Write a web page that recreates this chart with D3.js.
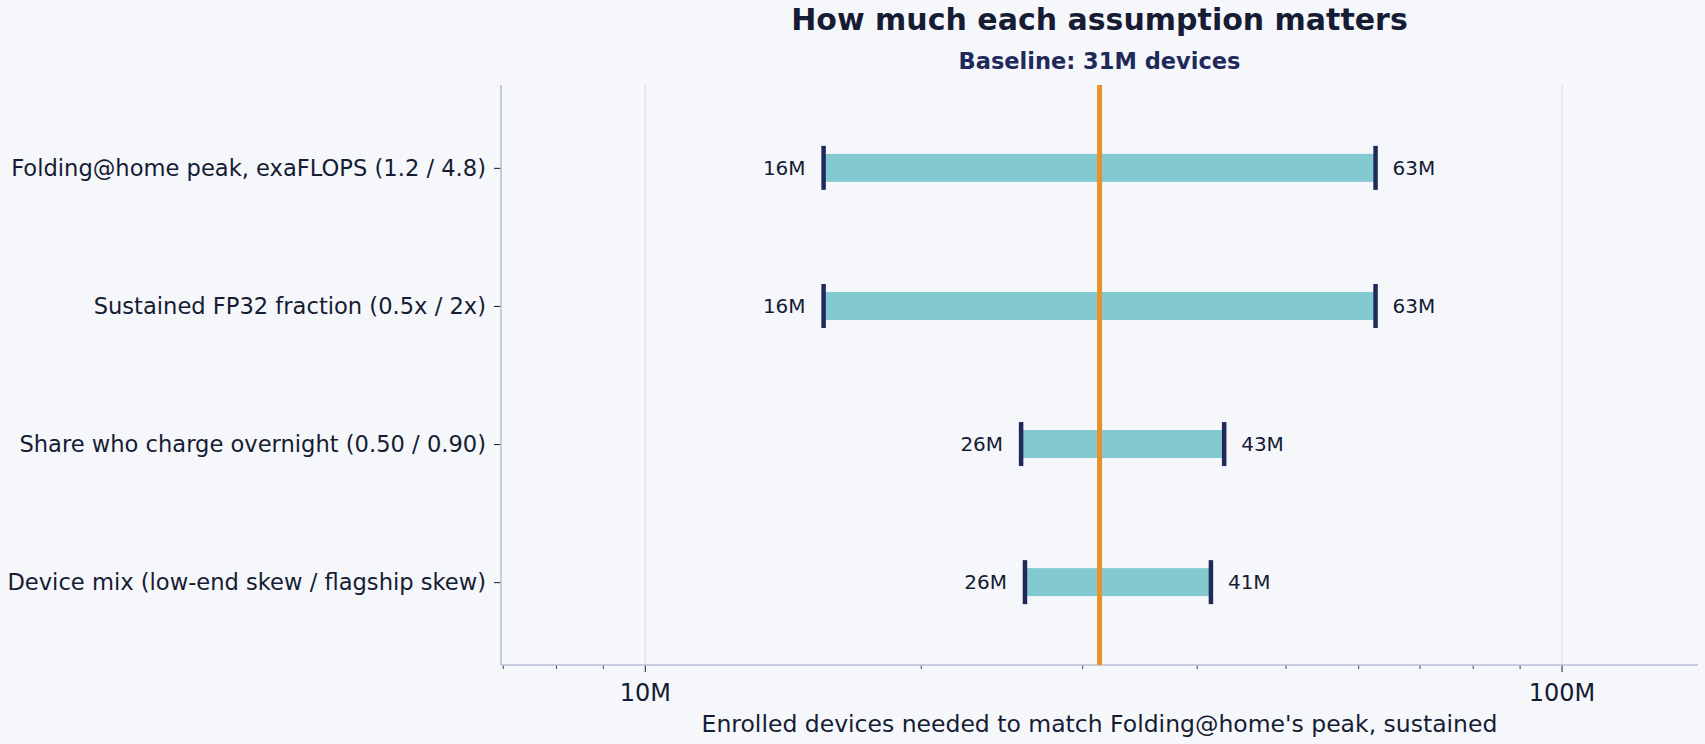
<!DOCTYPE html>
<html>
<head>
<meta charset="utf-8">
<script src="https://cdn.jsdelivr.net/npm/d3@7"></script>
<style>
  body { margin: 0; background: #f5f7fb; }
  svg { display: block; font-family: "DejaVu Sans", sans-serif; }
</style>
</head>
<body>
<div id="chart"></div>
<script>
// tornado data: each factor swept low / high around the baseline
const factors = [
  'Folding@home peak, exaFLOPS (1.2 / 4.8)',
  'Sustained FP32 fraction (0.5x / 2x)',
  'Share who charge overnight (0.50 / 0.90)',
  'Device mix (low-end skew / flagship skew)'
];
const lowValues = [15.65e6, 15.65e6, 25.7e6, 25.95e6];
const highValues = [62.6e6, 62.6e6, 42.8e6, 41.4e6];
const baseline = 31.3e6;
const xDomain = [6.96e6, 140.7e6];
const xTickValues = [1e7, 1e8];
const xTickLabels = ['10M', '100M'];

const width = 1705;
const height = 744;
const margin = {top: 85, right: 7, bottom: 79, left: 501};

const colors = {
  text: '#151c33',
  navy: '#1f2a5a',
  bar: '#82c9d0',
  orange: '#e8912a',
  grid: '#dcdfea',
  spine: '#b9c0d6'
};

const fmt = v => Math.round(v / 1e6) + 'M';

const svg = d3.select('#chart')
  .append('svg')
  .attr('width', width)
  .attr('height', height);

const x = d3.scaleLog()
  .domain(xDomain)
  .range([margin.left, width - margin.right]);

const y = d3.scalePoint()
  .domain(factors)
  .range([margin.top, height - margin.bottom])
  .padding(0.6);

const plotTop = margin.top;
const plotBottom = height - margin.bottom;

// gridlines at the decades
svg.append('g')
  .selectAll('line')
  .data(xTickValues)
  .join('line')
  .attr('x1', d => x(d))
  .attr('x2', d => x(d))
  .attr('y1', plotTop)
  .attr('y2', plotBottom)
  .attr('stroke', colors.grid)
  .attr('stroke-width', 1.3);

// x axis: major ticks with labels, minor ticks without
const minorTicks = x.ticks().filter(d => !xTickValues.includes(d));
const xAxisG = svg.append('g').attr('transform', `translate(0,${plotBottom})`);
xAxisG.selectAll('line.minor')
  .data(minorTicks)
  .join('line')
  .attr('class', 'minor')
  .attr('x1', d => x(d))
  .attr('x2', d => x(d))
  .attr('y1', 0)
  .attr('y2', 4)
  .attr('stroke', colors.text)
  .attr('stroke-width', 0.8);
xAxisG.selectAll('line.major')
  .data(xTickValues)
  .join('line')
  .attr('class', 'major')
  .attr('x1', d => x(d))
  .attr('x2', d => x(d))
  .attr('y1', 0)
  .attr('y2', 7)
  .attr('stroke', colors.text)
  .attr('stroke-width', 1);
xAxisG.selectAll('text')
  .data(xTickValues)
  .join('text')
  .attr('x', d => x(d))
  .attr('y', 35.5)
  .attr('text-anchor', 'middle')
  .attr('font-size', 24)
  .attr('fill', colors.text)
  .text((d, i) => xTickLabels[i]);

// y axis
const yAxis = d3.axisLeft(y).tickSize(7).tickPadding(8);
const yAxisG = svg.append('g')
  .attr('transform', `translate(${margin.left},0)`)
  .call(yAxis);
yAxisG.select('.domain').remove();
yAxisG.selectAll('.tick line').attr('stroke', colors.text).attr('stroke-width', 1);
yAxisG.selectAll('.tick text')
  .attr('font-size', 22.6)
  .attr('font-family', '"DejaVu Sans", sans-serif')
  .attr('fill', colors.text);

// spines
svg.append('line')
  .attr('x1', margin.left).attr('x2', margin.left)
  .attr('y1', plotTop).attr('y2', plotBottom)
  .attr('stroke', colors.spine).attr('stroke-width', 1.6);
svg.append('line')
  .attr('x1', margin.left).attr('x2', width - margin.right)
  .attr('y1', plotBottom).attr('y2', plotBottom)
  .attr('stroke', colors.spine).attr('stroke-width', 1.6);

// bars
const rows = factors.map((f, i) => ({name: f, lo: lowValues[i], hi: highValues[i]}));
const barH = 28;
const capH = 44;

svg.append('g')
  .selectAll('rect')
  .data(rows)
  .join('rect')
  .attr('x', d => x(d.lo))
  .attr('y', d => y(d.name) - barH / 2)
  .attr('width', d => x(d.hi) - x(d.lo))
  .attr('height', barH)
  .attr('fill', colors.bar);

// end caps
const caps = rows.flatMap(d => [{name: d.name, v: d.lo}, {name: d.name, v: d.hi}]);
svg.append('g')
  .selectAll('line')
  .data(caps)
  .join('line')
  .attr('x1', d => x(d.v))
  .attr('x2', d => x(d.v))
  .attr('y1', d => y(d.name) - capH / 2)
  .attr('y2', d => y(d.name) + capH / 2)
  .attr('stroke', colors.navy)
  .attr('stroke-width', 4.5);

// baseline marker
svg.append('line')
  .attr('x1', x(baseline)).attr('x2', x(baseline))
  .attr('y1', plotTop).attr('y2', plotBottom)
  .attr('stroke', colors.orange)
  .attr('stroke-width', 5);

// value labels
const labels = svg.append('g')
  .attr('font-size', 20)
  .attr('fill', colors.text);
labels.selectAll('text.lo')
  .data(rows)
  .join('text')
  .attr('class', 'lo')
  .attr('x', d => x(d.lo) - 18)
  .attr('y', d => y(d.name))
  .attr('dy', '0.35em')
  .attr('text-anchor', 'end')
  .text(d => fmt(d.lo));
labels.selectAll('text.hi')
  .data(rows)
  .join('text')
  .attr('class', 'hi')
  .attr('x', d => x(d.hi) + 17)
  .attr('y', d => y(d.name))
  .attr('dy', '0.35em')
  .attr('text-anchor', 'start')
  .text(d => fmt(d.hi));

// titles
const cx = (margin.left + width - margin.right) / 2;
svg.append('text')
  .attr('x', cx)
  .attr('y', 30)
  .attr('text-anchor', 'middle')
  .attr('font-size', 30)
  .attr('font-weight', 'bold')
  .attr('fill', colors.text)
  .text('How much each assumption matters');
svg.append('text')
  .attr('x', cx)
  .attr('y', 69)
  .attr('text-anchor', 'middle')
  .attr('font-size', 22.5)
  .attr('font-weight', 'bold')
  .attr('fill', colors.navy)
  .text('Baseline: ' + fmt(baseline) + ' devices');

svg.append('text')
  .attr('x', cx)
  .attr('y', 732)
  .attr('text-anchor', 'middle')
  .attr('font-size', 23.5)
  .attr('fill', colors.text)
  .text("Enrolled devices needed to match Folding@home's peak, sustained");
</script>
</body>
</html>
